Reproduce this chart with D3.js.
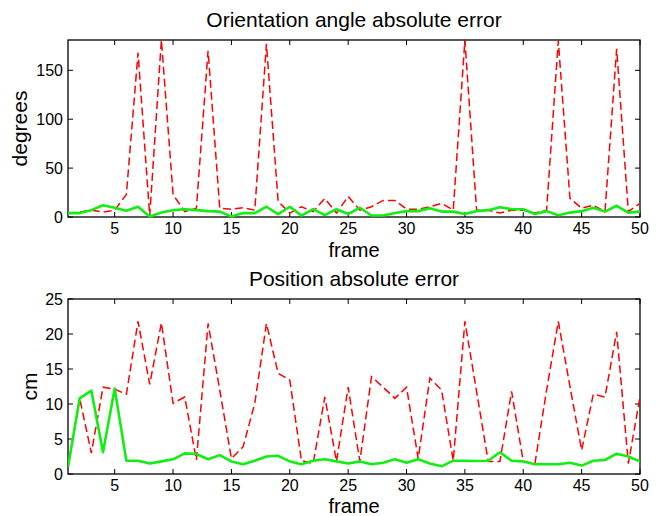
<!DOCTYPE html>
<html>
<head>
<meta charset="utf-8">
<script src="https://cdn.jsdelivr.net/npm/d3@7"></script>
<style>
  body { margin: 0; background: #fff; }
  text { font-family: "Liberation Sans", Arial, sans-serif; fill: #000; }
</style>
</head>
<body>
<div id="chart"></div>
<script>
// frame numbers 1..50
const frames = d3.range(1, 51);

// orientation angle absolute error (degrees)
const orientDashed = [4, 5, 7, 5, 7, 23, 168, 1, 181, 23,
  5.5, 9, 170, 9, 8, 9.5, 7, 177, 16, 4,
  10.5, 5.5, 19, 4, 21, 7, 10.5, 17, 17, 8,
  8, 10.5, 14, 7, 181, 7, 7, 4, 7, 7,
  4, 7, 180, 19, 9, 12, 5.5, 172, 5.5, 14];
const orientSolid = [4, 4, 7, 12, 9.5, 6.5, 10.5, 0.5, 4.5, 7,
  8, 7, 6, 5.5, 0.5, 4, 4, 10.5, 3, 10.5,
  1.5, 8, 2, 8, 3, 9.5, 1.5, 1.5, 4, 6,
  6, 9, 5.5, 5.5, 3, 6, 7, 10, 8, 8,
  3, 6, 1.7, 4.5, 6, 9.5, 5.5, 11.5, 4.5, 5.5];

// position absolute error (cm)
const posDashed = [1, 10.8, 3, 12.4, 12.1, 11.4, 21.8, 12.8, 21.6, 10.1,
  11, 2, 21.5, 12, 2.2, 3.9, 10.1, 21.5, 14.4, 13.4,
  1.9, 1.5, 11, 1.8, 12.4, 1.8, 13.9, 12.4, 10.8, 12.4,
  2.2, 13.7, 12, 1.9, 21.8, 11.8, 1.8, 1.8, 11.8, 1.8,
  1.5, 12, 21.8, 12.5, 3.4, 11.4, 11, 20.3, 1.5, 11];
const posSolid = [1, 10.8, 11.9, 3.1, 12.2, 1.9, 1.9, 1.5, 1.8, 2.1,
  2.95, 2.85, 2.1, 2.7, 1.8, 1.4, 1.9, 2.5, 2.6, 1.8,
  1.4, 1.9, 2.1, 1.8, 1.5, 1.8, 1.4, 1.6, 2.1, 1.6,
  2.1, 1.5, 1.1, 1.9, 1.9, 1.85, 1.9, 3.1, 1.9, 1.8,
  1.4, 1.4, 1.4, 1.6, 1.2, 1.9, 2, 2.9, 2.5, 1.8];

const xTicks = [5, 10, 15, 20, 25, 30, 35, 40, 45, 50];
const orientTicks = [0, 50, 100, 150];
const posTicks = [0, 5, 10, 15, 20, 25];

const W = 658, H = 516;
const svg = d3.select("#chart").append("svg")
  .attr("width", W)
  .attr("height", H);

const x = d3.scaleLinear().domain([1, 50]).range([68, 640]);

function drawPanel(cfg) {
  const y = d3.scaleLinear().domain(cfg.domain).range([cfg.bottom, cfg.top]);
  const g = svg.append("g");
  const tl = 5;

  // box
  g.append("rect")
    .attr("x", x.range()[0]).attr("y", cfg.top)
    .attr("width", x.range()[1] - x.range()[0])
    .attr("height", cfg.bottom - cfg.top)
    .attr("fill", "none").attr("stroke", "#000").attr("stroke-width", 1.3);

  // x ticks (inside, bottom and top)
  xTicks.forEach(function (t) {
    g.append("line").attr("x1", x(t)).attr("x2", x(t))
      .attr("y1", cfg.bottom).attr("y2", cfg.bottom - tl)
      .attr("stroke", "#000");
    g.append("line").attr("x1", x(t)).attr("x2", x(t))
      .attr("y1", cfg.top).attr("y2", cfg.top + tl)
      .attr("stroke", "#000");
    g.append("text").attr("x", x(t)).attr("y", cfg.bottom + 17)
      .attr("text-anchor", "middle").style("font-size", "16px").text(t);
  });

  // y ticks (inside, left and right)
  cfg.ticks.forEach(function (t) {
    g.append("line").attr("x1", x.range()[0]).attr("x2", x.range()[0] + tl)
      .attr("y1", y(t)).attr("y2", y(t)).attr("stroke", "#000");
    g.append("line").attr("x1", x.range()[1]).attr("x2", x.range()[1] - tl)
      .attr("y1", y(t)).attr("y2", y(t)).attr("stroke", "#000");
    g.append("text").attr("x", x.range()[0] - 5).attr("y", y(t) + 6)
      .attr("text-anchor", "end").style("font-size", "16px").text(t);
  });

  const clipId = "clip" + cfg.top;
  svg.append("clipPath").attr("id", clipId).append("rect")
    .attr("x", x.range()[0]).attr("y", cfg.top - 1)
    .attr("width", x.range()[1] - x.range()[0])
    .attr("height", cfg.bottom - cfg.top + 2);

  const line = function (vals) {
    return d3.line()
      .x(function (d, i) { return x(frames[i]); })
      .y(function (d) { return y(d); })(vals);
  };

  g.append("path")
    .attr("clip-path", "url(#" + clipId + ")")
    .attr("d", line(cfg.dashed))
    .attr("fill", "none")
    .attr("stroke", "#ff0000")
    .attr("stroke-width", 1.5)
    .attr("stroke-dasharray", "8,4");

  g.append("path")
    .attr("clip-path", "url(#" + clipId + ")")
    .attr("d", line(cfg.solid))
    .attr("fill", "none")
    .attr("stroke", "#11ee11")
    .attr("stroke-width", 2.6)
    .attr("stroke-linejoin", "round");

  // title and labels
  g.append("text").attr("x", (x.range()[0] + x.range()[1]) / 2).attr("y", cfg.top - 13)
    .attr("text-anchor", "middle").style("font-size", "21px").text(cfg.title);
  g.append("text").attr("x", (x.range()[0] + x.range()[1]) / 2).attr("y", cfg.bottom + cfg.frameDy)
    .attr("text-anchor", "middle").style("font-size", "20px").text("frame");
  g.append("text")
    .attr("transform", `translate(${cfg.ylabX},${(cfg.top + cfg.bottom) / 2}) rotate(-90)`)
    .attr("text-anchor", "middle").style("font-size", "21px").text(cfg.ylabel);
}

drawPanel({
  top: 40, bottom: 217, domain: [0, 181], ticks: orientTicks,
  dashed: orientDashed, solid: orientSolid, frameDy: 40,
  title: "Orientation angle absolute error", ylabel: "degrees", ylabX: 27
});

drawPanel({
  top: 299, bottom: 474, domain: [0, 25], ticks: posTicks,
  dashed: posDashed, solid: posSolid, frameDy: 39,
  title: "Position absolute error", ylabel: "cm", ylabX: 37
});
</script>
</body>
</html>
